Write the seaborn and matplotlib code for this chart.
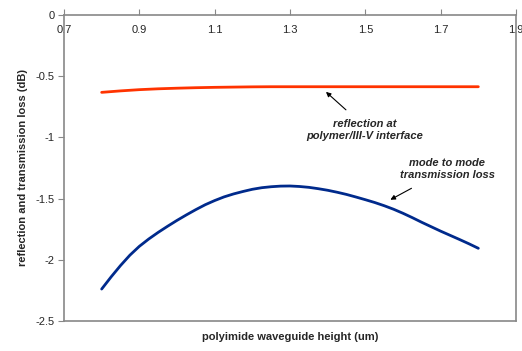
import matplotlib
matplotlib.use("Agg")
import matplotlib.pyplot as plt
import seaborn as sns
import pandas as pd

# reflection at polymer/III-V interface
refl_height = [0.80, 0.85, 0.90, 0.95, 1.00, 1.05, 1.10, 1.15, 1.20, 1.25,
               1.30, 1.40, 1.50, 1.60, 1.70, 1.80]
reflection = [-0.632, -0.620, -0.610, -0.603, -0.598, -0.594, -0.591, -0.589,
              -0.587, -0.586, -0.586, -0.586, -0.586, -0.586, -0.586, -0.586]

# mode to mode transmission loss
trans_height = [0.800, 0.825, 0.850, 0.875, 0.900, 0.925, 0.950, 0.975, 1.000,
                1.025, 1.050, 1.075, 1.100, 1.125, 1.150, 1.175, 1.200, 1.225,
                1.250, 1.275, 1.300, 1.325, 1.350, 1.375, 1.400, 1.425, 1.450,
                1.475, 1.500, 1.525, 1.550, 1.575, 1.600, 1.625, 1.650, 1.675,
                1.700, 1.725, 1.750, 1.775, 1.800]
transmission = [-2.239, -2.140, -2.047, -1.962, -1.890, -1.830, -1.776, -1.726,
                 -1.678, -1.633, -1.590, -1.550, -1.516, -1.486, -1.462, -1.442,
                 -1.424, -1.411, -1.403, -1.398, -1.397, -1.401, -1.408, -1.419,
                 -1.432, -1.448, -1.466, -1.487, -1.509, -1.532, -1.558, -1.587,
                 -1.620, -1.656, -1.694, -1.730, -1.766, -1.800, -1.834, -1.869,
                 -1.906]

xticks = [0.7, 0.9, 1.1, 1.3, 1.5, 1.7, 1.9]
xticklabels = ["0.7", "0.9", "1.1", "1.3", "1.5", "1.7", "1.9"]
yticks = [0, -0.5, -1, -1.5, -2, -2.5]
yticklabels = ["0", "-0.5", "-1", "-1.5", "-2", "-2.5"]

sns.set_style("white")
plt.rcParams['font.family'] = ['Liberation Sans', 'DejaVu Sans']

df_r = pd.DataFrame({"height": refl_height, "loss": reflection})
df_t = pd.DataFrame({"height": trans_height, "loss": transmission})

fig = plt.figure(figsize=(5.22, 3.51), dpi=100)
ax = fig.add_axes([64/522, 30/351, 452/522, 306/351])

sns.lineplot(data=df_r, x="height", y="loss", ax=ax, color="#ff3300", lw=2.0)
sns.lineplot(data=df_t, x="height", y="loss", ax=ax, color="#002a8c", lw=2.0)

ax.set_xlim(0.7, 1.9)
ax.set_ylim(-2.5, 0)
ax.set_xticks(xticks)
ax.set_xticklabels(xticklabels)
ax.set_yticks(yticks)
ax.set_yticklabels(yticklabels)

gray = "#888888"
for s in ax.spines.values():
    s.set_color(gray)
    s.set_linewidth(1.2)
ax.spines['bottom'].set_position(('data', 0))
ax.spines['top'].set_position(('data', -2.5))

ax.tick_params(axis='x', direction='in', length=4, color=gray, labelsize=8, pad=7,
               bottom=True, top=False)
ax.tick_params(axis='y', direction='out', length=4, color=gray, labelsize=8, pad=3,
               left=True)

ax.set_xlabel("")
ax.set_ylabel("reflection and transmission loss (dB)", fontsize=8, fontweight='bold', labelpad=5)
fig.text(290/522, 1 - 337/351, "polyimide waveguide height (um)", fontsize=8,
         fontweight='bold', ha='center', va='center')

ax.annotate("", xy=(1.39, -0.613), xytext=(1.454, -0.79),
            arrowprops=dict(arrowstyle="-|>", color="black", lw=0.8, mutation_scale=7))
ax.text(1.499, -0.94, "reflection at\npolymer/III-V interface", fontsize=8,
        fontweight='bold', style='italic', ha='center', va='center', linespacing=1.3)
ax.annotate("", xy=(1.56, -1.52), xytext=(1.629, -1.405),
            arrowprops=dict(arrowstyle="-|>", color="black", lw=0.8, mutation_scale=7))
ax.text(1.717, -1.258, "mode to mode\ntransmission loss", fontsize=8,
        fontweight='bold', style='italic', ha='center', va='center', linespacing=1.3)

fig.savefig("out.png", dpi=100)
